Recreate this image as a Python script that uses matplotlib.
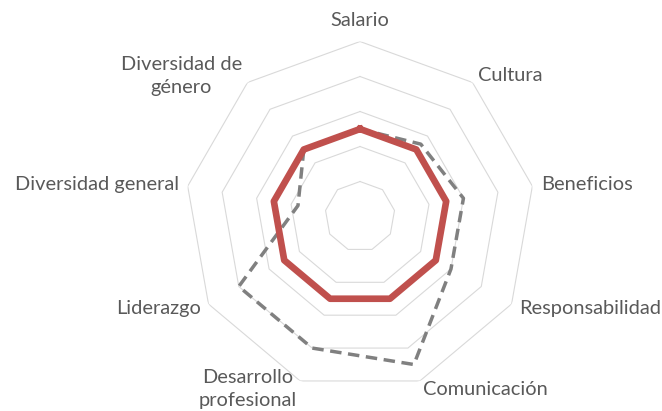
import numpy as np
import matplotlib
matplotlib.use("Agg")
import matplotlib.pyplot as plt

plt.rcParams['font.family'] = ['Lato', 'DejaVu Sans']

categories = ['Salario', 'Cultura', 'Beneficios', 'Responsabilidad', 'Comunicación',
              'Desarrollo\nprofesional', 'Liderazgo', 'Diversidad general',
              'Diversidad de\ngénero']
serie_roja = [2.5, 2.5, 2.5, 2.5, 2.5, 2.5, 2.5, 2.5, 2.5]
serie_gris = [2.5, 2.7, 3.0, 3.0, 4.5, 4.0, 4.0, 1.8, 2.5]
anillos = [1, 2, 3, 4, 5]

n = len(categories)
theta = np.linspace(0, 2 * np.pi, n, endpoint=False)
theta_c = np.append(theta, theta[0])

fig = plt.figure(figsize=(6.62, 4.11), dpi=100)
ax = fig.add_axes([0.2795, 0.0474, 0.5287, 0.8516], projection='polar')
ax.set_theta_zero_location('N')
ax.set_theta_direction(-1)
ax.set_ylim(0, 5)
ax.grid(False)
ax.spines['polar'].set_visible(False)
ax.set_xticks([])
ax.set_yticks([])

# nonagon gridlines
for r in anillos:
    ax.plot(theta_c, [r] * (n + 1), color='#D9D9D9', lw=0.8, zorder=1)

g = np.append(serie_gris, serie_gris[0])
ax.plot(theta_c, g, color='#808080', lw=2.5, dashes=(3.3, 1.9),
        solid_joinstyle='round', zorder=2)
rr = np.append(serie_roja, serie_roja[0])
ax.plot(theta_c, rr, color='#C0504D', lw=4.8, solid_joinstyle='round', zorder=3)

# category labels
for ang, lab in zip(theta, categories):
    deg = np.degrees(ang)
    if deg < 1:
        ax.text(ang, 5.6, lab, ha='center', va='center',
                fontsize=14.4, color='#595959')
        continue
    ha = 'left' if deg < 180 else 'right'
    ax.text(ang, 5.25, lab, ha=ha, va='center', multialignment='center',
            fontsize=14.4, color='#595959', linespacing=1.45)

fig.savefig('out.png', dpi=100)
